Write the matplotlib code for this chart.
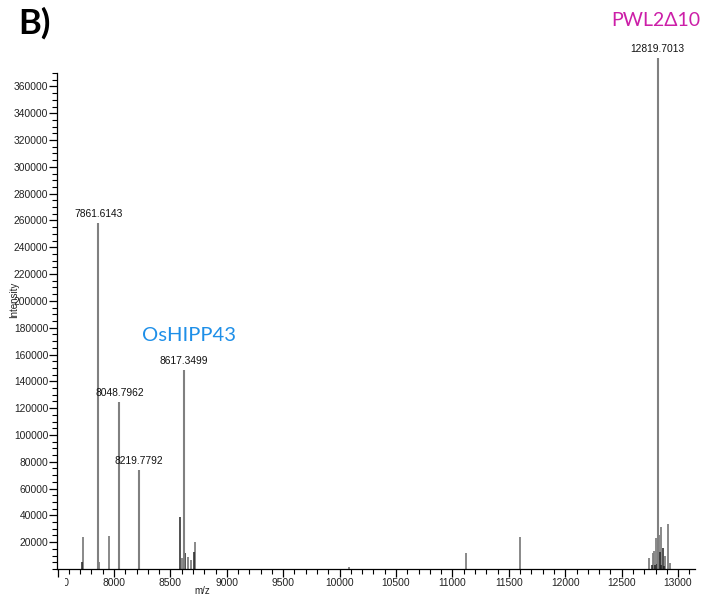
import matplotlib
matplotlib.use("Agg")
import matplotlib.pyplot as plt
from matplotlib.ticker import MultipleLocator, FixedLocator
from matplotlib.transforms import Bbox, TransformedBbox

# Annotated peaks (m/z, intensity)
labeled_mz = [7861.6143, 8048.7962, 8219.7792, 8617.3499, 12819.7013]
labeled_int = [257800, 124300, 74000, 148300, 381000]

# Smaller unlabelled peaks, drawn in grey
grey_mz = [7729, 7870, 7959, 8604, 8654, 8684, 8716, 10082, 11117, 11598,
           12742, 12778, 12787, 12802, 12831, 12852, 12885, 12914, 12925]
grey_int = [23600, 5000, 24300, 8000, 9000, 6700, 19900, 1500, 11700, 24000,
            8200, 11700, 13200, 22900, 25300, 31000, 9400, 33500, 4500]

# Smaller unlabelled peaks, drawn in black
dark_mz = [7718, 8583, 8633, 8707, 12772, 12795, 12810, 12840, 12850, 12864, 12875]
dark_int = [5000, 39000, 11900, 12400, 3000, 3000, 4000, 12700, 3000, 15600, 2500]

x_ticks = [7500, 8000, 8500, 9000, 9500, 10000, 10500, 11000, 11500, 12000, 12500, 13000]
y_ticks = list(range(20000, 360001, 20000))

fig = plt.figure(figsize=(7.02, 5.96), dpi=100)
ax = fig.add_axes([57 / 702, 27 / 596, (695 - 57) / 702, (569 - 73) / 596])

grey = "#808080"
ax.vlines(grey_mz, 0, grey_int, colors=grey, linewidth=1.3, clip_on=False)
ax.vlines(dark_mz, 0, dark_int, colors="#222222", linewidth=1.1, clip_on=False)
ax.vlines(labeled_mz, 0, labeled_int, colors=grey, linewidth=1.5, clip_on=False)

for mz, h in zip(labeled_mz, labeled_int):
    ax.annotate(f"{mz:.4f}", (mz, h), xytext=(0, 3), textcoords="offset points",
                ha="center", va="bottom", fontsize=7.4,
                family="Liberation Sans", color="#111111", annotation_clip=False)

ax.set_xlim(7495, 13150)
ax.set_ylim(0, 370000)

for side in ("top", "right"):
    ax.spines[side].set_visible(False)
for side in ("left", "bottom"):
    ax.spines[side].set_linewidth(0.9)

ax.xaxis.set_major_locator(FixedLocator(x_ticks))
ax.xaxis.set_minor_locator(MultipleLocator(100))
ax.yaxis.set_major_locator(FixedLocator(y_ticks))
ax.yaxis.set_minor_locator(MultipleLocator(5000))
ax.tick_params(axis="both", which="major", length=5.5, width=0.9, direction="out",
               labelsize=7.4, pad=0.8)
ax.tick_params(axis="both", which="minor", length=3.5, width=0.8, direction="out")
ax.set_xticklabels([str(t) for t in x_ticks], family="Liberation Sans", color="#222222")
ax.set_yticklabels([str(t) for t in y_ticks], family="Liberation Sans", color="#222222")

# the left-most x label is partly hidden behind the axis corner
first = ax.get_xticklabels()[0]
first.set_clip_on(True)
first.set_clip_box(TransformedBbox(Bbox([[65 / 702, 0], [1, 1]]), fig.transFigure))

fig.text(14 / 702, 1 - 300 / 596, "Intensity", rotation=90, ha="center", va="center",
         fontsize=7, family="Liberation Sans", color="#222222")
fig.text(202 / 702, 1 - 591 / 596, "m/z", ha="center", va="center",
         fontsize=7, family="Liberation Sans", color="#222222")

fig.text(189 / 702, 1 - 335 / 596, "OsHIPP43", ha="center", va="center",
         fontsize=14.5, family=["Lato", "DejaVu Sans"], color="#1e8fe8")
fig.text(656 / 702, 1 - 20 / 596, "PWL2\u039410", ha="center", va="center",
         fontsize=14, family=["Lato", "DejaVu Sans"], color="#cc1fa8")
fig.text(34 / 702, 1 - 23 / 596, "B)", ha="center", va="center",
         fontsize=25, fontweight="bold", family=["Lato", "DejaVu Sans"], color="black")

fig.savefig("out.png", dpi=100)
